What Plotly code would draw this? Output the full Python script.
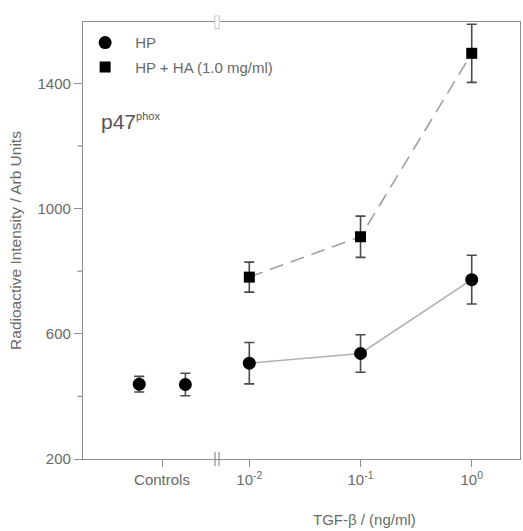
import numpy as np
import plotly.graph_objects as go

# ---- data ----
dose_ng_ml = [0.01, 0.1, 1.0]
hp_dose = [506, 537, 773]
hp_dose_err = [66, 60, 78]
hpha_dose = [781, 910, 1496]
hpha_dose_err = [48, 66, 93]
hp_controls = [439, 438]
hp_controls_err = [25, 36]
xtick_labels = ["Controls", "10<sup>-2</sup>", "10<sup>-1</sup>", "10<sup>0</sup>"]
y_major = [200, 600, 1000, 1400]
y_minor = [400, 800, 1200]

# ---- layout constants ----
ctrl_x = [-2.99, -2.575]
ctrl_tick = -2.785
break_x = -2.29
xlog = list(np.log10(dose_ng_ml))

axis_col = "#8f8f8f"
text_col = "#6a6a6a"
font = "Liberation Sans, Arial, sans-serif"

fig = go.Figure()

err_style = dict(type="data", thickness=1.6, width=5, color="#4a4a4a")

# HP dose-response (solid line)
fig.add_trace(go.Scatter(
    x=xlog, y=hp_dose, mode="lines+markers",
    line=dict(color="#b0b0b0", width=1.6),
    marker=dict(symbol="circle", size=13, color="black"),
    error_y=dict(array=hp_dose_err, **err_style),
    showlegend=False))
# HP controls (no line)
fig.add_trace(go.Scatter(
    x=ctrl_x, y=hp_controls, mode="markers",
    marker=dict(symbol="circle", size=13, color="black"),
    error_y=dict(array=hp_controls_err, **err_style),
    showlegend=False))
# HP + HA (dashed)
fig.add_trace(go.Scatter(
    x=xlog, y=hpha_dose, mode="lines+markers",
    line=dict(color="#a0a0a0", width=1.6, dash="14px,8px"),
    marker=dict(symbol="square", size=11, color="black"),
    error_y=dict(array=hpha_dose_err, **err_style),
    showlegend=False))

# legend entries
fig.add_trace(go.Scatter(x=[None], y=[None], mode="markers", name="HP",
                         legendgroup="a",
                         marker=dict(symbol="circle", size=13, color="black")))
fig.add_trace(go.Scatter(x=[None], y=[None], mode="markers", name="HP + HA (1.0 mg/ml)",
                         legendgroup="b",
                         marker=dict(symbol="square", size=11, color="black")))

# y minor ticks
for v in y_minor:
    fig.add_shape(type="line", xref="paper", yref="y", x0=-0.013, x1=0, y0=v, y1=v,
                  line=dict(color=axis_col, width=1.2))

# axis break marks
fig.add_shape(type="line", xref="x", yref="paper", x0=break_x - 0.018, x1=break_x - 0.018,
              y0=-0.016, y1=0.016, line=dict(color=axis_col, width=1.2))
fig.add_shape(type="line", xref="x", yref="paper", x0=break_x + 0.018, x1=break_x + 0.018,
              y0=-0.016, y1=0.016, line=dict(color=axis_col, width=1.2))
fig.add_shape(type="rect", xref="x", yref="paper", x0=break_x - 0.02, x1=break_x + 0.02,
              y0=0.985, y1=1.014, line=dict(color="#c8c8c8", width=1), fillcolor="white")

fig.add_annotation(text="p47<sup><span style='font-size:11px'>phox</span></sup>",
                   xref="paper", yref="paper",
                   x=0.037, y=0.772, xanchor="left", yanchor="middle", showarrow=False,
                   font=dict(size=21, color="#555555", family=font))
fig.add_annotation(text="TGF-β / (ng/ml)", xref="paper", yref="paper",
                   x=(364 - 83) / 437, y=-(519 - 459) / 437, xanchor="center", yanchor="middle",
                   showarrow=False, font=dict(size=15, color=text_col, family=font))

fig.update_layout(
    width=523, height=531,
    margin=dict(l=83, r=3, t=22, b=72),
    paper_bgcolor="white", plot_bgcolor="white",
    font=dict(family=font, size=15, color=text_col),
    legend=dict(x=-0.018, y=0.99, xanchor="left", yanchor="top",
                bgcolor="rgba(0,0,0,0)", font=dict(size=15, color=text_col),
                itemwidth=50, tracegroupgap=2),
    xaxis=dict(range=[-3.4955, 0.434], showgrid=False, zeroline=False,
               showline=True, linecolor=axis_col, linewidth=1.2, mirror=True,
               tickvals=[ctrl_tick] + xlog, ticktext=xtick_labels,
               ticks="outside", ticklen=7, tickcolor=axis_col, tickwidth=1.2,
               tickfont=dict(size=15, color=text_col)),
    yaxis=dict(range=[200, 1596], showgrid=False, zeroline=False,
               showline=True, linecolor=axis_col, linewidth=1.2, mirror=True,
               tickvals=y_major, ticks="outside", ticklen=8, tickcolor=axis_col, tickwidth=1.2,
               tickfont=dict(size=15, color=text_col),
               title=dict(text="Radioactive Intensity / Arb Units", standoff=12,
                          font=dict(size=15.5, color=text_col))),
)

fig.write_html("out.html")
